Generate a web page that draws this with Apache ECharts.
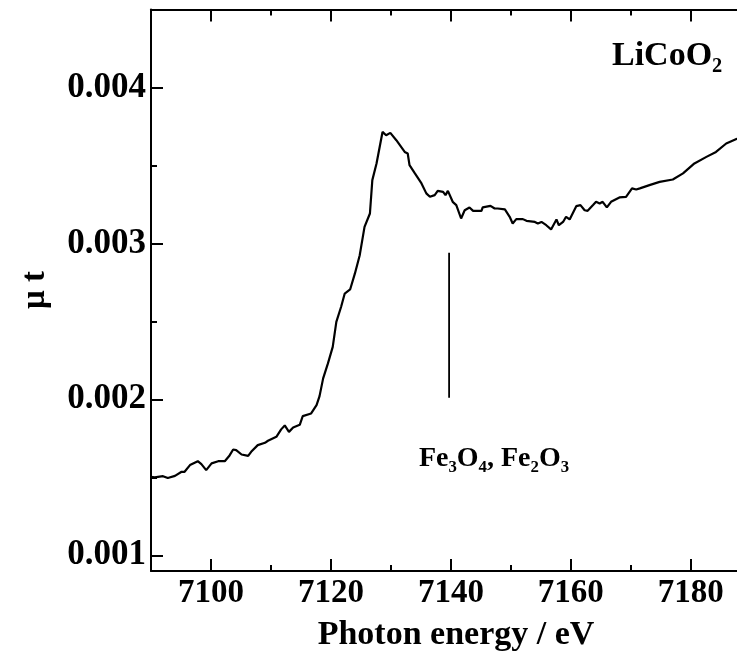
<!DOCTYPE html>
<html>
<head>
<meta charset="utf-8">
<script src="https://cdn.jsdelivr.net/npm/echarts@6/dist/echarts.min.js"></script>
<style>
html,body{margin:0;padding:0;background:#fff}
#chart{width:737px;height:651px}
</style>
</head>
<body>
<div id="chart"></div>
<script>
// photon energy (eV) and mu*t
var energy=[7090,7090.6,7092.0,7092.8,7094.0,7095.1,7095.6,7096.5,7097.8,7098.4,7099.2,7100.1,7101.2,7102.3,7103.1,7103.7,7104.2,7105.1,7106.2,7106.7,
  7107.8,7109.0,7109.5,7110.9,7111.7,7112.3,7113.0,7113.7,7114.8,7115.3,7116.7,7117.6,7118.1,7118.7,7119.5,7120.3,7120.9,7121.7,7122.3,7123.2,
  7124.0,7124.8,7125.6,7126.5,7126.9,7127.6,7128.6,7129.2,7129.9,7130.9,7132.3,7132.8,7133.1,7134.0,7135.1,7135.9,7136.5,7137.3,7137.8,7138.7,
  7139.1,7139.5,7140.3,7140.9,7141.7,7142.3,7143.1,7143.7,7145.1,7145.3,7146.6,7147.3,7147.8,7149.0,7149.8,7150.3,7150.9,7152.0,7152.6,7154.0,
  7154.5,7155.1,7155.9,7156.7,7157.6,7158.0,7158.7,7159.2,7159.8,7160.9,7161.6,7162.3,7162.8,7163.7,7164.2,7164.8,7165.3,7166.0,7166.7,7168.1,
  7169.2,7170.2,7170.9,7171.5,7173.1,7174.8,7177.0,7178.7,7180.6,7182.6,7184.2,7185.9,7187.6,7188.5];
var mu=[0.001504,0.00150,0.001508,0.001496,0.00151,0.001536,0.001536,0.001579,0.001604,0.001585,0.001547,0.00159,0.001604,0.001604,0.001641,0.001679,0.001675,0.001647,0.001638,0.001664,
  0.001707,0.001722,0.001735,0.00176,0.001808,0.001833,0.001792,0.00182,0.001837,0.001893,0.00191,0.001963,0.002021,0.002135,0.002231,0.002337,0.002497,0.002594,0.002679,0.002705,
  0.002808,0.002925,0.003106,0.003192,0.003406,0.003513,0.003715,0.003694,0.003709,0.003662,0.003587,0.003577,0.003502,0.003449,0.003385,0.003321,0.003299,0.00331,0.003337,0.003331,
  0.00331,0.003337,0.003267,0.003246,0.00316,0.003213,0.003231,0.003209,0.003209,0.003231,0.003241,0.003224,0.003224,0.003218,0.003171,0.003128,0.003156,0.003156,0.003145,0.003138,
  0.003128,0.003138,0.003117,0.00309,0.003154,0.003117,0.003138,0.003171,0.003154,0.003239,0.003246,0.003213,0.003209,0.003246,0.003267,0.003256,0.003267,0.003231,0.003267,0.003295,
  0.003299,0.003353,0.003346,0.003353,0.003374,0.003395,0.00341,0.003449,0.003513,0.003555,0.003587,0.003641,0.003669,0.00369];

// marker line for the iron oxide edge
var refEnergy=[7139.7,7139.7];
var refMu=[0.00201,0.00294];

var xMajor=[7100,7120,7140,7160,7180];
var xMinor=[7110,7130,7150,7170];
var yMajor=[0.001,0.002,0.003,0.004];
var yMinor=[0.0015,0.0025,0.0035];

var FONT='"Liberation Serif","Times New Roman",serif';
var xMin=7090, xMax=7187.7, yMin=0.0009, yMax=0.0045;

function xAx(pos,ticks,len,line,label){
  return {
    type:'value', position:pos, min:xMin, max:xMax,
    splitLine:{show:false},
    axisLine:{show:line,onZero:false,lineStyle:{color:'#000',width:2}},
    axisTick:{show:true,inside:true,length:len,customValues:ticks,lineStyle:{color:'#000',width:2}},
    axisLabel:{show:label,customValues:ticks,margin:6,color:'#000',fontFamily:FONT,fontWeight:'bold',fontSize:33,
      formatter:function(v){ return String(v); }}
  };
}
function yAx(ticks,len,line,label){
  return {
    type:'value', position:'left', min:yMin, max:yMax,
    splitLine:{show:false},
    axisLine:{show:line,onZero:false,lineStyle:{color:'#000',width:2}},
    axisTick:{show:true,inside:true,length:len,customValues:ticks,lineStyle:{color:'#000',width:2}},
    axisLabel:{show:label,customValues:ticks,margin:5,color:'#000',fontFamily:FONT,fontWeight:'bold',fontSize:35,
      formatter:function(v){ return v.toFixed(3); }}
  };
}

var pts=[];
for(var i=0;i<energy.length;i++){ pts.push([energy[i],mu[i]]); }
var refPts=[];
for(var j=0;j<refEnergy.length;j++){ refPts.push([refEnergy[j],refMu[j]]); }

var myChart=echarts.init(document.getElementById('chart'));
var option={
  animation:false,
  backgroundColor:'#fff',
  grid:{left:151,right:0,top:9.5,bottom:80,containLabel:false,outerBoundsMode:'none'},
  xAxis:[
    xAx('bottom',xMajor,12,true,true),
    xAx('bottom',xMinor,6,false,false),
    xAx('top',xMajor,12,true,false),
    xAx('top',xMinor,6,false,false)
  ],
  yAxis:[
    yAx(yMajor,12,true,true),
    yAx(yMinor,6,false,false)
  ],
  series:[
    {type:'line',data:pts,xAxisIndex:0,yAxisIndex:0,showSymbol:false,clip:true,
     lineStyle:{color:'#000',width:2.2}},
    {type:'line',data:refPts,xAxisIndex:0,yAxisIndex:0,showSymbol:false,
     lineStyle:{color:'#000',width:1.8}}
  ],
  graphic:[
    {type:'text',x:456,y:635,style:{text:'Photon energy / eV',fill:'#000',font:'bold 34px '+FONT,align:'center',verticalAlign:'middle'}},
    {type:'text',x:35,y:290,rotation:Math.PI/2,style:{text:'\u03bc t',fill:'#000',font:'bold 33px '+FONT,align:'center',verticalAlign:'middle'}},
    {type:'text',x:612,y:56,style:{text:'LiCoO\u2082',fill:'#000',font:'bold 34px '+FONT,align:'left',verticalAlign:'middle'}},
    {type:'text',x:494,y:459,style:{text:'Fe\u2083O\u2084, Fe\u2082O\u2083',fill:'#000',font:'bold 28px '+FONT,align:'center',verticalAlign:'middle'}}
  ]
};
myChart.setOption(option);
</script>
</body>
</html>
